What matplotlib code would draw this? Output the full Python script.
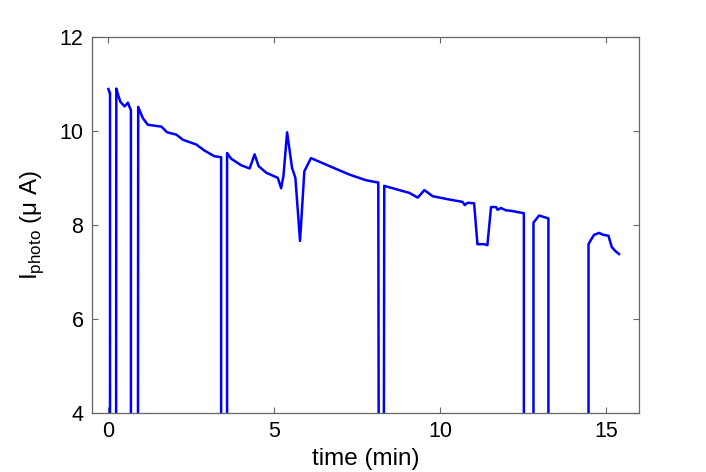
import numpy as np
import matplotlib
matplotlib.use("Agg")
import matplotlib.pyplot as plt

plt.rcParams['font.family'] = ['Liberation Sans', 'DejaVu Sans']

# photocurrent trace (time in min, current in uA);
# the 0.0 values are the drop-outs that fall below the visible range
time_min = [0.00, 0.04, 0.05, 0.05, 0.23, 0.24, 0.28, 0.36, 0.49, 0.59, 0.66, 0.68,
            0.68, 0.89, 0.90, 1.04, 1.19, 1.60, 1.77, 2.05, 2.25, 2.65, 2.90,
            3.20, 3.40, 3.40, 3.58, 3.58, 3.70, 4.00, 4.26, 4.41, 4.53, 4.76,
            5.11, 5.21, 5.28, 5.39, 5.54, 5.64, 5.78, 5.91, 6.11, 6.67, 7.27,
            7.77, 8.14, 8.16, 8.30, 8.32, 9.08, 9.33, 9.53, 9.78, 10.28, 10.68,
            10.75, 10.83, 11.03, 11.13, 11.33, 11.43, 11.54, 11.69, 11.74,
            11.84, 11.99, 12.14, 12.29, 12.44, 12.53, 12.53, 12.82, 12.82,
            12.99, 13.26, 13.27, 13.27, 14.48, 14.48, 14.55, 14.65, 14.80,
            14.92, 15.08, 15.18, 15.28, 15.40]
i_photo = [10.89, 10.81, 10.81, 0.0, 0.0, 10.90, 10.80, 10.62, 10.52, 10.60, 10.47, 10.45,
           0.0, 0.0, 10.51, 10.27, 10.13, 10.09, 9.97, 9.92, 9.81, 9.71, 9.58,
           9.46, 9.44, 0.0, 0.0, 9.53, 9.41, 9.27, 9.20, 9.50, 9.25, 9.11,
           9.00, 8.78, 9.04, 9.97, 9.21, 9.00, 7.66, 9.14, 9.42, 9.25, 9.07,
           8.95, 8.90, 0.0, 0.0, 8.83, 8.68, 8.58, 8.74, 8.61, 8.54, 8.49,
           8.42, 8.47, 8.46, 7.59, 7.59, 7.57, 8.38, 8.38, 8.32,
           8.36, 8.31, 8.30, 8.28, 8.26, 8.25, 0.0, 0.0, 8.05,
           8.20, 8.14, 8.14, 0.0, 0.0, 7.59, 7.68, 7.79, 7.83,
           7.79, 7.77, 7.53, 7.45, 7.38]

xticks = [0, 5, 10, 15]
yticks = [4, 6, 8, 10, 12]

fig = plt.figure(figsize=(7.06, 4.72), dpi=100)
ax = fig.add_axes([0.130, 0.125, 0.775, 0.797])

ax.plot(time_min, i_photo, color='#0000ff', linewidth=1.8)

ax.set_xlim(-0.5, 16)
ax.set_ylim(4, 12)
ax.set_xticks(xticks)
ax.set_yticks(yticks)
ax.tick_params(direction='in', top=True, right=True, length=4, width=0.8,
               color='0.4', labelsize=15.5, pad=6)
for sp in ax.spines.values():
    sp.set_color('0.4')
    sp.set_linewidth(0.9)

ax.set_xlabel('time (min)', fontsize=17.5, labelpad=4)
ax.set_ylabel(r'I$_\mathregular{photo}$ (μ A)', fontsize=17.5, labelpad=10)

fig.savefig('out.png', dpi=100)
